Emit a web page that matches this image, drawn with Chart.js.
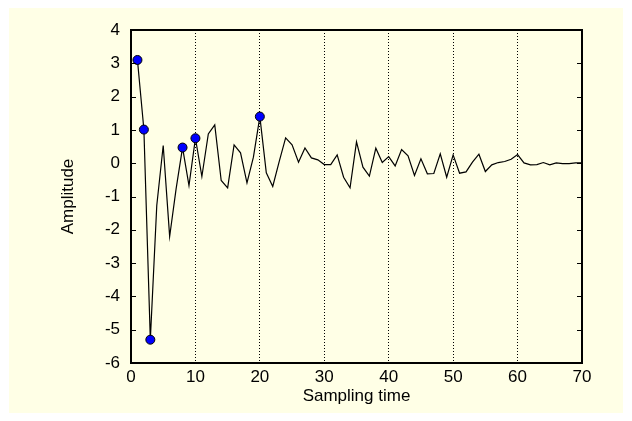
<!DOCTYPE html>
<html lang="en">
  <head>
    <meta charset="UTF-8" />
    <title>Amplitude vs Sampling time</title>
    <script src="https://cdn.jsdelivr.net/npm/chart.js@4.4.0/dist/chart.umd.min.js"></script>
    <style>
      html, body { margin: 0; padding: 0; background: #ffffff; }
      canvas { display: block; }
    </style>
  </head>
  <body>
    <canvas id="ampChart" width="632" height="421"></canvas>
    <script>
      // sample index 1..70
      const samples = Array.from({ length: 70 }, (_, i) => i + 1);

      const amplitude = [
        3.1, 1.01, -5.3, -1.27, 0.53, -2.2, -0.77, 0.47, -0.67, 0.75,
        -0.4, 0.88, 1.15, -0.52, -0.74, 0.55, 0.31, -0.59, 0.18, 1.4,
        -0.29, -0.7, 0.05, 0.76, 0.55, 0.03, 0.46, 0.16, 0.1, -0.04,
        -0.04, 0.25, -0.42, -0.74, 0.64, -0.12, -0.39, 0.45, 0.02, 0.2,
        -0.08, 0.41, 0.22, -0.37, 0.13, -0.32, -0.31, 0.28, -0.42, 0.25,
        -0.3, -0.26, 0.03, 0.27, -0.25, -0.05, 0.02, 0.05, 0.12, 0.26,
        0.01, -0.05, -0.04, 0.02, -0.05, 0.01, -0.01, -0.01, 0.01, 0.01
      ];

      // samples picked out with a blue marker
      const markedSamples = [1, 2, 3, 8, 10, 20];

      const xTicks = [0, 10, 20, 30, 40, 50, 60, 70];
      const yTicks = [-6, -5, -4, -3, -2, -1, 0, 1, 2, 3, 4];

      const FONT = "'Liberation Sans', Arial, sans-serif";

      const framePlugin = {
        id: "frame",
        beforeDraw(chart) {
          const c = chart.ctx;
          c.save();
          c.fillStyle = "#ffffe6";
          c.fillRect(9, 8, 614, 405);
          c.restore();
        },
        afterDatasetsDraw(chart) {
          const c = chart.ctx;
          const a = chart.chartArea;
          const y = chart.scales.y;
          c.save();
          c.strokeStyle = "#000";
          c.lineWidth = 1;
          c.beginPath();
          yTicks.forEach((v) => {
            const py = Math.round(y.getPixelForValue(v)) + 0.5;
            c.moveTo(a.left, py);
            c.lineTo(a.left + 5, py);
            c.moveTo(a.right, py);
            c.lineTo(a.right - 5, py);
          });
          c.stroke();
          c.lineWidth = 2;
          c.strokeRect(a.left, a.top, a.right - a.left, a.bottom - a.top);
          c.restore();
        },
      };

      const points = samples.map((s, i) => ({ x: s, y: amplitude[i] }));

      new Chart(document.getElementById("ampChart"), {
        type: "line",
        data: {
          datasets: [
            {
              data: points,
              borderColor: "#000",
              borderWidth: 1.2,
              tension: 0,
              fill: false,
              pointRadius: samples.map((s) => (markedSamples.includes(s) ? 4.5 : 0)),
              pointBackgroundColor: "#0000ff",
              pointBorderColor: "#000",
              pointBorderWidth: 1,
            },
          ],
        },
        options: {
          responsive: false,
          animation: false,
          events: [],
          layout: { padding: { left: 0, right: 50, top: 30, bottom: 0 } },
          plugins: { legend: { display: false }, tooltip: { enabled: false } },
          scales: {
            x: {
              type: "linear",
              min: 0,
              max: 70,
              afterBuildTicks: (s) => { s.ticks = xTicks.map((v) => ({ value: v })); },
              afterFit: (s) => { s.height = 58; },
              border: { display: false, dash: [1, 2] },
              grid: { color: "#000", lineWidth: 1, drawTicks: false },
              ticks: { color: "#000", padding: 4, font: { family: FONT, size: 17 } },
              title: {
                display: true,
                text: "Sampling time",
                color: "#000",
                font: { family: FONT, size: 17 },
                padding: { top: 0, bottom: 14 },
              },
            },
            y: {
              min: -6,
              max: 4,
              afterBuildTicks: (s) => { s.ticks = yTicks.map((v) => ({ value: v })); },
              afterFit: (s) => { s.width = 131; },
              border: { display: false },
              grid: { display: false, drawTicks: false },
              ticks: { color: "#000", padding: 11, font: { family: FONT, size: 17 } },
              title: {
                display: true,
                text: "Amplitude",
                color: "#000",
                font: { family: FONT, size: 17 },
                padding: { top: 58, bottom: 0 },
              },
            },
          },
        },
        plugins: [framePlugin],
      });
    </script>
  </body>
</html>
